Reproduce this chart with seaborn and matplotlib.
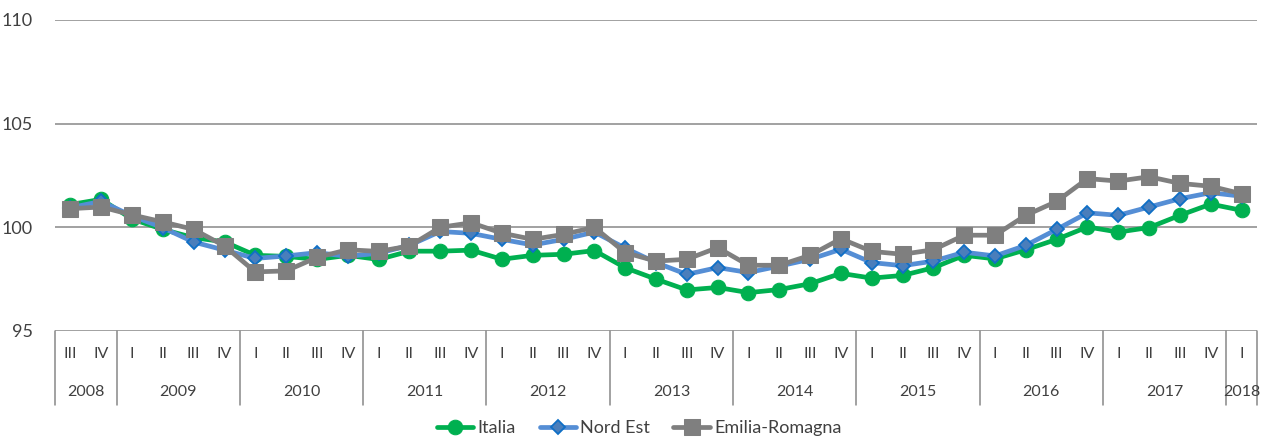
import numpy as np
import pandas as pd
import matplotlib
matplotlib.use('Agg')
import matplotlib.pyplot as plt
import seaborn as sns

###############################################################################
# Data
###############################################################################

years = ['2008', '2009', '2010', '2011', '2012', '2013', '2014', '2015', '2016', '2017', '2018']
quarters_per_year = [2, 4, 4, 4, 4, 4, 4, 4, 4, 4, 1]
quarter_labels = (['III', 'IV'] + ['I', 'II', 'III', 'IV'] * 9 + ['I'])

italia = [101.1, 101.35, 100.4, 99.9, 99.5, 99.3,
          98.65, 98.6, 98.45, 98.65,
          98.45, 98.85, 98.85, 98.9,
          98.46, 98.65, 98.7, 98.88,
          98.05, 97.5, 96.98, 97.1,
          96.85, 97.0, 97.28, 97.78,
          97.55, 97.68, 98.05, 98.65,
          98.48, 98.92, 99.42, 100.02,
          99.77, 99.99, 100.58, 101.12,
          100.82]

nord_est = [100.95, 101.25, 100.55, 99.98, 99.29, 98.9,
            98.5, 98.62, 98.78, 98.6,
            98.75, 99.13, 99.8, 99.71,
            99.42, 99.15, 99.42, 99.77,
            99.0, 98.3, 97.73, 98.06,
            97.82, 98.13, 98.46, 98.94,
            98.3, 98.15, 98.37, 98.8,
            98.62, 99.13, 99.9, 100.7,
            100.58, 100.98, 101.38, 101.67,
            101.5]

emilia_romagna = [100.9, 100.98, 100.6, 100.26, 99.9, 99.1,
                  97.85, 97.9, 98.55, 98.92,
                  98.84, 99.1, 100.0, 100.22,
                  99.72, 99.42, 99.66, 100.0,
                  98.78, 98.37, 98.46, 99.02,
                  98.17, 98.17, 98.65, 99.45,
                  98.84, 98.7, 98.92, 99.62,
                  99.62, 100.58, 101.25, 102.35,
                  102.23, 102.44, 102.12, 101.98,
                  101.62]

df = pd.DataFrame({'idx': np.arange(len(italia)),
                   'Italia': italia,
                   'Nord Est': nord_est,
                   'Emilia-Romagna': emilia_romagna})

###############################################################################
# Plot
###############################################################################

sns.set_style('white')
plt.rcParams['font.family'] = ['Lato', 'DejaVu Sans']

fig = plt.figure(figsize=(12.66, 4.38), dpi=100)
ax = fig.add_axes([55 / 1266, 1 - 331 / 438, 1202 / 1266, 311 / 438])

styles = {
    'Italia': dict(color='#00B050', marker='o', markersize=10.5,
                   markerfacecolor='#00B050', markeredgecolor='#00B050'),
    'Nord Est': dict(color='#558ED5', marker='D', markersize=7.5,
                     markerfacecolor='#4A7EBB', markeredgecolor='#0F6FC6',
                     markeredgewidth=1.3),
    'Emilia-Romagna': dict(color='#7F7F7F', marker='s', markersize=11,
                           markerfacecolor='#7F7F7F', markeredgecolor='#7F7F7F'),
}

for name in ['Italia', 'Nord Est', 'Emilia-Romagna']:
    sns.lineplot(data=df, x='idx', y=name, ax=ax, label=name,
                 linewidth=3.4, **styles[name])

n = len(italia)
ax.set_xlim(-0.5, n - 0.5)
ax.set_ylim(95, 110)
ax.set_yticks([95, 100, 105, 110])
ax.set_xticks([])
ax.set_xlabel('')
ax.set_ylabel('')
ax.tick_params(axis='y', labelsize=13, pad=16, length=0, colors='#404040')
ax.yaxis.grid(True, color='#878787', linewidth=1.1)
ax.set_axisbelow(True)
sns.despine(ax=ax, left=True, bottom=True)

# multi-level category axis
trans = ax.get_xaxis_transform()
for i, q in enumerate(quarter_labels):
    ax.text(i, -0.074, q, transform=trans, ha='center', va='center',
            fontsize=11.5, color='#404040')

start = 0
bounds = [-0.5]
for y, nq in zip(years, quarters_per_year):
    mid = start + (nq - 1) / 2
    ax.text(mid, -0.196, y, transform=trans, ha='center', va='center',
            fontsize=11.5, color='#404040')
    start += nq
    bounds.append(start - 0.5)

for b in bounds:
    ax.plot([b, b], [0, -0.238], transform=trans, color='#878787',
            linewidth=1.1, clip_on=False)

ax.legend(loc='center', bbox_to_anchor=(0.505, 1 - 428 / 438),
          bbox_transform=fig.transFigure, ncol=3, frameon=False,
          fontsize=13, handlelength=2.0, handletextpad=0.25,
          columnspacing=1.3, labelcolor='#404040')

plt.savefig('out.png', dpi=100)
